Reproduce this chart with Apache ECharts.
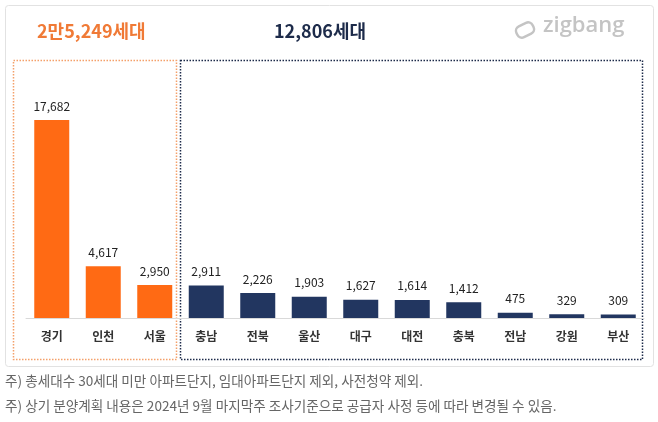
<!DOCTYPE html>
<html><head><meta charset="utf-8">
<script src="https://cdn.jsdelivr.net/npm/echarts@6/dist/echarts.min.js"></script>
<style>html,body{margin:0;padding:0;background:#fff}#c{width:658px;height:422px}</style>
</head><body><div id="c"></div>
<script>
const categories = ['경기','인천','서울','충남','전북','울산','대구','대전','충북','전남','강원','부산'];
const values = [17682,4617,2950,2911,2226,1903,1627,1614,1412,475,329,309];
const groupCapital = ['경기','인천','서울'];
const titleCapital = '2만5,249세대';
const titleOther = '12,806세대';
const notes = ['주) 총세대수 30세대 미만 아파트단지, 임대아파트단지 제외, 사전청약 제외.',
               '주) 상기 분양계획 내용은 2024년 9월 마지막주 조사기준으로 공급자 사정 등에 따라 변경될 수 있음.'];

const ORANGE = '#FF6A14', NAVY = '#223660';
const FONT = '"Noto Sans CJK KR", "Noto Sans", sans-serif';
const chart = echarts.init(document.getElementById('c'));
chart.setOption({
  animation:false,
  backgroundColor:'#fff',
  grid:{left:26, right:14, top:94, bottom:104},
  xAxis:{type:'category', data:categories,
    axisLine:{lineStyle:{color:'#d9d9d9', width:1}}, axisTick:{show:false},
    axisLabel:{color:'#333', fontSize:12, fontWeight:'bold', margin:12, fontFamily:FONT}},
  yAxis:{type:'value', min:0, max:20000, show:false, splitLine:{show:false}},
  series:[{type:'bar', barWidth:35,
    data: values.map((v,i)=>({value:v, itemStyle:{color: groupCapital.includes(categories[i]) ? ORANGE : NAVY}})),
    label:{show:true, position:'top', distance:8, color:'#222', fontSize:12, fontFamily:FONT,
      formatter:p=>p.value.toLocaleString('en-US')}}],
  graphic:[
    {type:'rect', shape:{x:5.5,y:5.5,width:648,height:361,r:3}, style:{fill:'none', stroke:'#e2e2e2', lineWidth:1}, z:-1},
    {type:'rect', shape:{x:13.5,y:60.5,width:163,height:299}, style:{fill:'none', stroke:'#F4A06A', lineWidth:1.5, lineDash:[1.5,1.5]}},
    {type:'rect', shape:{x:180.5,y:60.5,width:462,height:299}, style:{fill:'none', stroke:'#1d2b4a', lineWidth:1.5, lineDash:[1.5,1.5]}},
    {type:'text', left:37, top:22, style:{text:titleCapital, fill:'#F07A36', font:'bold 18px '+FONT}},
    {type:'text', left:274, top:22, style:{text:titleOther, fill:'#1d2b4a', font:'bold 18px '+FONT}},
    {type:'rect', shape:{x:-9,y:-6,width:18,height:12,r:5}, x:525, y:30, rotation:0.45, style:{fill:'none', stroke:'#c4c4c4', lineWidth:2.5}},
    {type:'text', left:543, top:15, style:{text:'zigbang', fill:'#c4c4c4', font:'600 22px "Open Sans", sans-serif'}},
    {type:'text', left:5, top:374, style:{text:notes[0], fill:'#666', font:'13.6px '+FONT}},
    {type:'text', left:5, top:399, style:{text:notes[1], fill:'#666', font:'13.6px '+FONT}}
  ]
});
</script></body></html>
